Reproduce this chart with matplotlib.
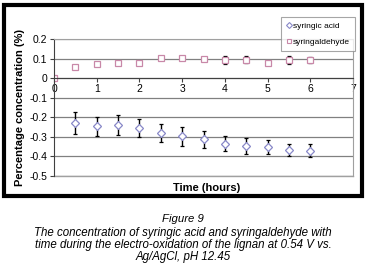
import matplotlib
matplotlib.use("Agg")
import matplotlib.pyplot as plt
from matplotlib.patches import Rectangle
from matplotlib.lines import Line2D

plt.rcParams['font.family'] = ['Liberation Sans', 'DejaVu Sans']

# data
t_acid = [0.5, 1, 1.5, 2, 2.5, 3, 3.5, 4, 4.5, 5, 5.5, 6]
acid = [-0.228, -0.246, -0.240, -0.254, -0.278, -0.298, -0.313, -0.334, -0.347, -0.352, -0.366, -0.370]
acid_err = [0.057, 0.049, 0.053, 0.047, 0.046, 0.048, 0.042, 0.040, 0.040, 0.035, 0.031, 0.032]

t_ald = [0, 0.5, 1, 1.5, 2, 2.5, 3, 3.5, 4, 4.5, 5, 5.5, 6]
ald = [0.0, 0.057, 0.070, 0.075, 0.078, 0.102, 0.102, 0.097, 0.093, 0.093, 0.078, 0.094, 0.092]
ald_err = [0, 0, 0, 0, 0, 0.004, 0.004, 0, 0.02, 0.018, 0, 0.021, 0.016]

yticks = [0.2, 0.1, 0, -0.1, -0.2, -0.3, -0.4, -0.5]
ylabels = ['0.2', '0.1', '0', '-0.1', '-0.2', '-0.3', '-0.4', '-0.5']
xticks = [0, 1, 2, 3, 4, 5, 6, 7]

acid_col = '#8888c8'
ald_col = '#c888a8'

fig = plt.figure(figsize=(3.66, 2.74), dpi=100)
ax = fig.add_axes([54/366, 1-176/274, (353-54)/366, (176-39)/274])

for s in ['top', 'right', 'bottom']:
    ax.spines[s].set_color('#a0a0a0')
ax.spines['left'].set_color('#404040')
ax.spines['bottom'].set_position(('data', 0))
ax.spines['bottom'].set_color('#404040')

ax.set_xlim(0, 7)
ax.set_ylim(-0.5, 0.2)
ax.set_yticks(yticks)
ax.set_yticklabels(ylabels)
ax.set_xticks(xticks)
ax.set_xticklabels([str(v) for v in xticks])
ax.tick_params(axis='x', direction='out', length=3, pad=1, color='#404040', labelsize=7.5)
ax.tick_params(axis='y', direction='out', length=3, pad=2, color='#404040', labelsize=7.5)
ax.grid(axis='y', color='#808080', lw=0.9)
ax.set_axisbelow(True)
ax.plot([0, 7], [-0.5, -0.5], color='#a0a0a0', lw=1, clip_on=False)

ax.errorbar(t_acid, acid, yerr=acid_err, fmt='D', ms=4, mfc='white', mec=acid_col,
            mew=0.9, ecolor='black', elinewidth=1, capsize=1.6, capthick=1)
ax.errorbar(t_ald, ald, yerr=ald_err, fmt='s', ms=4.5, mfc='white', mec=ald_col,
            mew=0.9, ecolor='black', elinewidth=1, capsize=1.6, capthick=1)

ax.set_ylabel('Percentage concentration (%)', fontsize=8, fontweight='bold', labelpad=3)
fig.text(207/366, 1-188/274, 'Time (hours)', ha='center', va='center',
         fontsize=8, fontweight='bold')

handles = [Line2D([], [], ls='none', marker='D', ms=3, mfc='white', mec=acid_col, mew=0.8),
           Line2D([], [], ls='none', marker='s', ms=3.5, mfc='white', mec=ald_col, mew=0.8)]
leg = ax.legend(handles, ['syringic acid', 'syringaldehyde'], loc='upper left',
                bbox_to_anchor=(281/366, 1-17/274), bbox_transform=fig.transFigure,
                fontsize=6, frameon=True, fancybox=False, handlelength=0.6, handletextpad=0.2,
                borderpad=0.6, labelspacing=1.0, borderaxespad=0)
leg.get_frame().set_edgecolor('#909090')
leg.get_frame().set_linewidth(0.8)

# black frame round the chart
fig.patches.append(Rectangle((4/366, 1-196/274), 358/366, 191/274, transform=fig.transFigure,
                             fill=False, edgecolor='black', lw=3))

cap_lines = ['The concentration of syringic acid and syringaldehyde with',
             'time during the electro-oxidation of the lignan at 0.54 V vs.',
             'Ag/AgCl, pH 12.45']
fig.text(0.5, 1-219/274, 'Figure 9', ha='center', va='center', fontsize=8.2, style='italic')
for i, line in enumerate(cap_lines):
    fig.text(0.5, 1-(233+12*i)/274, line, ha='center', va='center', fontsize=8.3, style='italic')

fig.savefig('out.png', dpi=100)
